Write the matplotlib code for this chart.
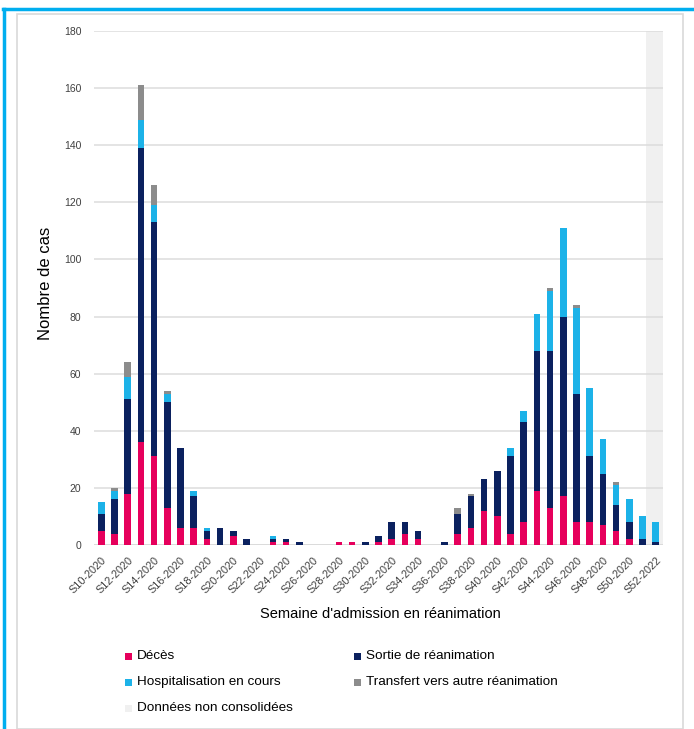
import matplotlib
matplotlib.use("Agg")
import matplotlib.pyplot as plt
from matplotlib.patches import Rectangle
from matplotlib.lines import Line2D
import numpy as np

plt.rcParams['font.family'] = ['Liberation Sans', 'DejaVu Sans']

weeks = list(range(10, 53))
deces = [5, 4, 18, 36, 31, 13, 6, 6, 2, 0, 3, 0, 0, 1, 1, 0, 0, 0, 1, 1, 0, 1,
         2, 4, 2, 0, 0, 4, 6, 12, 10, 4, 8, 19, 13, 17, 8, 8, 7, 5, 2, 0, 0]
sortie = [6, 12, 33, 103, 82, 37, 28, 11, 3, 6, 2, 2, 0, 1, 1, 1, 0, 0, 0, 0, 1, 2,
          6, 4, 3, 0, 1, 7, 11, 11, 16, 27, 35, 49, 55, 63, 45, 23, 18, 9, 6, 2, 1]
hospit = [4, 3, 8, 10, 6, 3, 0, 2, 1, 0, 0, 0, 0, 1, 0, 0, 0, 0, 0, 0, 0, 0,
          0, 0, 0, 0, 0, 0, 0, 0, 0, 3, 4, 13, 21, 31, 30, 24, 12, 7, 8, 8, 7]
transfert = [0, 1, 5, 12, 7, 1, 0, 0, 0, 0, 0, 0, 0, 0, 0, 0, 0, 0, 0, 0, 0, 0,
             0, 0, 0, 0, 0, 2, 1, 0, 0, 0, 0, 0, 1, 0, 1, 0, 0, 1, 0, 0, 0]
non_consolidees_weeks = [52]
tick_labels = [f"S{w}-2020" for w in range(10, 52, 2)] + ["S52-2022"]
tick_weeks = list(range(10, 53, 2))

series = [
    ("Décès", deces, "#e6005c"),
    ("Sortie de réanimation", sortie, "#0b215f"),
    ("Hospitalisation en cours", hospit, "#1cb2e8"),
    ("Transfert vers autre réanimation", transfert, "#8c8c8c"),
]
shade_color = "#f0f0f0"

W, H = 694, 729
fig = plt.figure(figsize=(W / 100, H / 100), dpi=100)

def fx(px):
    return px / W

def fy(py):
    return 1 - py / H

# outer frames
fig.add_artist(Rectangle((fx(17), fy(729)), fx(683) - fx(17), fy(14) - fy(729),
                         transform=fig.transFigure, fill=False,
                         edgecolor="#d9d9d9", linewidth=1.2))
fig.add_artist(Line2D([fx(3), fx(694)], [fy(9), fy(9)], transform=fig.transFigure,
                      color="#00aeef", linewidth=2.5))
fig.add_artist(Line2D([fx(4), fx(4)], [fy(9), fy(729)], transform=fig.transFigure,
                      color="#00aeef", linewidth=2.5))

ax = fig.add_axes([fx(94), fy(545), fx(663) - fx(94), fy(31) - fy(545)])
x = np.array(weeks)
bottom = np.zeros(len(weeks))
for name, vals, col in series:
    v = np.array(vals, dtype=float)
    ax.bar(x, v, width=0.5, bottom=bottom, color=col, zorder=3, linewidth=0)
    bottom += v

for w in non_consolidees_weeks:
    ax.axvspan(w - 0.7, w + 0.6, color=shade_color, zorder=0, linewidth=0)

ax.set_xlim(9.45, 52.55)
ax.set_ylim(0, 180)
ax.set_yticks(range(0, 181, 20))
ax.tick_params(axis='y', length=0, labelsize=7.5, colors="#404040", pad=9)
ax.grid(axis='y', color="#dcdcdc", linewidth=1.1, zorder=1)
ax.set_axisbelow(True)
for s in ax.spines.values():
    s.set_visible(False)
ax.axhline(0, color="#d9d9d9", linewidth=1.1, zorder=2)

ax.set_xticks(tick_weeks)
ax.set_xticklabels(tick_labels, rotation=45, ha='right', rotation_mode='anchor',
                   fontsize=7.8, color="#404040")
ax.tick_params(axis='x', length=0, pad=7)

fig.text(fx(46), fy(283), "Nombre de cas", rotation=90, ha='center', va='center',
         fontsize=12, color="#000000")
fig.text(fx(380), fy(614), "Semaine d'admission en réanimation", ha='center',
         va='center', fontsize=10.5, color="#000000")

# legend
legend_items = [(name, col) for name, _, col in series] + [("Données non consolidées", shade_color)]
positions = [(125, 656), (354, 656), (125, 682), (354, 682), (125, 708)]
sq = 7
for (name, col), (px, py) in zip(legend_items, positions):
    fig.add_artist(Rectangle((fx(px), fy(py + sq / 2)), fx(sq), fy(0) - fy(sq),
                             transform=fig.transFigure, facecolor=col,
                             edgecolor='none'))
    fig.text(fx(px + 12), fy(py), name, ha='left', va='center', fontsize=9.7,
             color="#000000")

fig.savefig("out.png", dpi=100, facecolor="white")
